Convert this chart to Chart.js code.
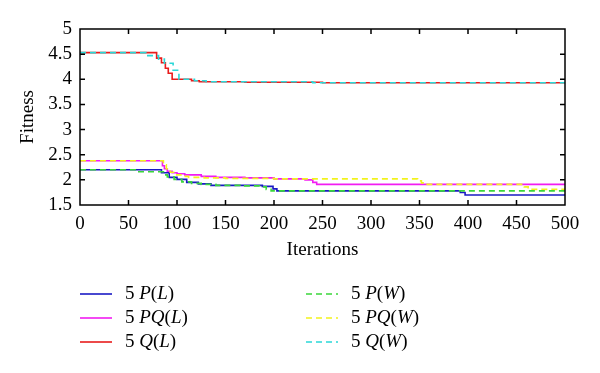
<!DOCTYPE html>
<html>
<head>
<meta charset="utf-8">
<script src="https://cdn.jsdelivr.net/npm/chart.js@4.4.1/dist/chart.umd.min.js"></script>
<style>
  html, body { margin: 0; padding: 0; background: #fff; }
</style>
</head>
<body>
<canvas id="fitnessChart" width="600" height="373"></canvas>
<script>
// iteration where each level starts, and the fitness level held from there
const pL_iter  = [0, 84, 92, 100, 110, 122, 135, 188, 199, 203, 392, 397, 500];
const pL_fit   = [2.2, 2.14, 2.05, 2.01, 1.95, 1.92, 1.89, 1.87, 1.82, 1.78, 1.75, 1.70, 1.70];
const pqL_iter = [0, 85, 87, 90, 95, 100, 108, 125, 140, 170, 200, 232, 240, 244, 500];
const pqL_fit  = [2.38, 2.28, 2.22, 2.17, 2.14, 2.12, 2.1, 2.07, 2.05, 2.04, 2.02, 2.0, 1.95, 1.91, 1.91];
const qL_iter  = [0, 79, 84, 88, 91, 95, 115, 123, 170, 250, 500];
const qL_fit   = [4.53, 4.42, 4.33, 4.22, 4.12, 4.0, 3.97, 3.95, 3.94, 3.93, 3.93];
const pW_iter  = [0, 58, 86, 90, 97, 105, 115, 125, 140, 165, 185, 192, 197, 500];
const pW_fit   = [2.2, 2.16, 2.1, 2.06, 2.01, 1.96, 1.93, 1.91, 1.89, 1.88, 1.86, 1.81, 1.78, 1.78];
const pqW_iter = [0, 86, 89, 93, 98, 104, 112, 128, 150, 200, 348, 352, 356, 458, 462, 500];
const pqW_fit  = [2.38, 2.3, 2.22, 2.15, 2.1, 2.07, 2.05, 2.04, 2.03, 2.02, 1.98, 1.94, 1.91, 1.86, 1.81, 1.81];
const qW_iter  = [0, 68, 81, 87, 96, 102, 118, 130, 240, 500];
const qW_fit   = [4.53, 4.47, 4.4, 4.32, 4.18, 4.0, 3.97, 3.95, 3.93, 3.93];

const xTicks = [0, 50, 100, 150, 200, 250, 300, 350, 400, 450, 500];
const yTicks = [1.5, 2, 2.5, 3, 3.5, 4, 4.5, 5];

// legend labels: [text, italic]
const legendLabels = [
    [['5 ', false], ['P', true], ['(', false], ['L', true], [')', false]],
    [['5 ', false], ['PQ', true], ['(', false], ['L', true], [')', false]],
    [['5 ', false], ['Q', true], ['(', false], ['L', true], [')', false]],
    [['5 ', false], ['P', true], ['(', false], ['W', true], [')', false]],
    [['5 ', false], ['PQ', true], ['(', false], ['W', true], [')', false]],
    [['5 ', false], ['Q', true], ['(', false], ['W', true], [')', false]]
];

const FONT = "'Liberation Serif', 'DejaVu Serif', serif";

const toPoints = (xs, ys) => xs.map((x, i) => ({x: x, y: ys[i]}));

const series = (data, color, dashed) => ({
    data: data,
    borderColor: color,
    borderWidth: 1.6,
    borderDash: dashed ? [6, 4] : [],
    pointRadius: 0,
    stepped: 'before',
    fill: false,
    order: dashed ? 0 : 1
});

const frameAndTicks = {
    id: 'frameAndTicks',
    afterDatasetsDraw(chart) {
        const {ctx, chartArea: a, scales} = chart;
        ctx.save();
        ctx.strokeStyle = '#000';
        ctx.lineWidth = 1.5;
        ctx.strokeRect(a.left, a.top, a.right - a.left, a.bottom - a.top);
        ctx.beginPath();
        xTicks.slice(1, -1).forEach(v => {
            const px = scales.x.getPixelForValue(v);
            ctx.moveTo(px, a.bottom); ctx.lineTo(px, a.bottom - 5);
            ctx.moveTo(px, a.top); ctx.lineTo(px, a.top + 5);
        });
        yTicks.slice(1, -1).forEach(v => {
            const py = scales.y.getPixelForValue(v);
            ctx.moveTo(a.left, py); ctx.lineTo(a.left + 5, py);
            ctx.moveTo(a.right, py); ctx.lineTo(a.right - 5, py);
        });
        ctx.stroke();
        ctx.restore();
    }
};

const customLegend = {
    id: 'customLegend',
    afterDraw(chart) {
        const {ctx} = chart;
        const cols = [80, 306];
        const rows = [294, 318, 342];
        ctx.save();
        chart.data.datasets.forEach((ds, i) => {
            const x = cols[Math.floor(i / 3)];
            const y = rows[i % 3];
            ctx.beginPath();
            ctx.strokeStyle = ds.borderColor;
            ctx.lineWidth = 1.6;
            ctx.setLineDash(ds.borderDash);
            ctx.moveTo(x, y);
            ctx.lineTo(x + 32, y);
            ctx.stroke();
            ctx.setLineDash([]);
            let tx = x + 45;
            ctx.fillStyle = '#000';
            ctx.textBaseline = 'middle';
            legendLabels[i].forEach(([t, it]) => {
                ctx.font = (it ? 'italic ' : '') + '19px ' + FONT;
                ctx.fillText(t, tx, y);
                tx += ctx.measureText(t).width;
            });
        });
        ctx.restore();
    }
};

new Chart(document.getElementById('fitnessChart'), {
    type: 'line',
    data: {
        datasets: [
            series(toPoints(pL_iter, pL_fit), '#1a1ac4', false),
            series(toPoints(pqL_iter, pqL_fit), '#f21cf2', false),
            series(toPoints(qL_iter, qL_fit), '#e81c1c', false),
            series(toPoints(pW_iter, pW_fit), '#3ad63a', true),
            series(toPoints(pqW_iter, pqW_fit), '#f2f21c', true),
            series(toPoints(qW_iter, qW_fit), '#2ad8d8', true)
        ]
    },
    options: {
        responsive: false,
        animation: false,
        layout: { padding: { left: 0, right: 35, top: 29, bottom: 108 } },
        plugins: {
            legend: { display: false },
            tooltip: { enabled: false }
        },
        scales: {
            x: {
                type: 'linear',
                min: 0,
                max: 500,
                afterBuildTicks: s => { s.ticks = xTicks.map(v => ({value: v})); },
                afterFit: s => { s.height = 60; },
                grid: { display: false, drawTicks: false },
                border: { display: false },
                ticks: {
                    padding: 8, color: '#000', autoSkip: false, maxRotation: 0,
                    font: { family: FONT, size: 19 }, callback: v => String(v)
                },
                title: {
                    display: true,
                    text: 'Iterations',
                    color: '#000',
                    font: { family: FONT, size: 19 },
                    padding: { top: 0, bottom: 4 }
                }
            },
            y: {
                min: 1.5,
                max: 5,
                afterBuildTicks: s => { s.ticks = yTicks.map(v => ({value: v})); },
                afterFit: s => { s.width = 80; },
                grid: { display: false, drawTicks: false },
                border: { display: false },
                ticks: {
                    padding: 8, color: '#000', autoSkip: false,
                    font: { family: FONT, size: 19 }, callback: v => String(v)
                },
                title: {
                    display: true,
                    text: 'Fitness',
                    color: '#000',
                    font: { family: FONT, size: 19 },
                    padding: { top: 17, bottom: 0 }
                }
            }
        }
    },
    plugins: [frameAndTicks, customLegend]
});
</script>
</body>
</html>
